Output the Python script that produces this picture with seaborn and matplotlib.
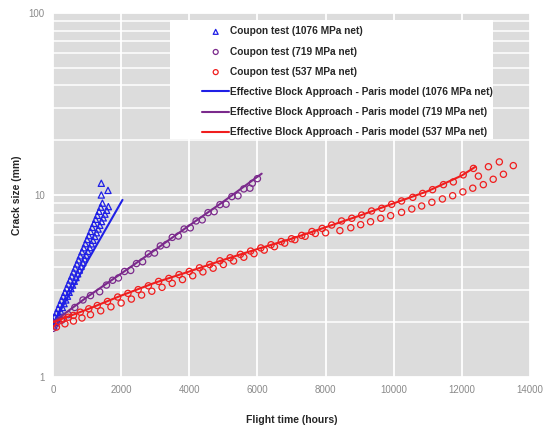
import numpy as np
import seaborn as sns
import matplotlib.pyplot as plt
from matplotlib.patches import Rectangle
from matplotlib.ticker import LogLocator, NullFormatter

## data --------------------------------------------------------------------------------

# coupon test 1076 MPa (two interleaved rows + a few outliers at the top)
blue_x = [0, 50, 100, 150, 200, 250, 300, 350, 400, 450, 500, 550, 600, 650, 700, 750,
          800, 850, 900, 950, 1000, 1050, 1100, 1150, 1200, 1250, 1300, 1350, 1400, 1450,
          25, 75, 125, 175, 225, 275, 325, 375, 425, 475, 525, 575, 625, 675, 725, 775,
          825, 875, 925, 975, 1025, 1075, 1125, 1175, 1225, 1275, 1325, 1375, 1425, 1475,
          1525, 1575, 1625,
          1418, 1418, 1614]
blue_y = [2.04, 2.15, 2.26, 2.38, 2.51, 2.64, 2.78, 2.92, 3.08, 3.24, 3.41, 3.59, 3.78, 3.97,
          4.18, 4.40, 4.63, 4.88, 5.13, 5.40, 5.69, 5.98, 6.30, 6.64, 6.98, 7.35, 7.73, 8.14,
          8.57, 9.02,
          1.91, 2.00, 2.10, 2.20, 2.30, 2.41, 2.53, 2.65, 2.78, 2.92, 3.06, 3.20, 3.36, 3.52,
          3.69, 3.87, 4.06, 4.25, 4.46, 4.67, 4.90, 5.14, 5.39, 5.64, 5.92, 6.20, 6.50, 6.82,
          7.15, 7.49, 7.85, 8.24, 8.63,
          11.6, 10.0, 10.6]

# coupon test 719 MPa
purple_x = [0, 80, 250, 450, 640, 880, 1100, 1370, 1570, 1750, 1920, 2100, 2280, 2450, 2630,
            2800, 2980, 3150, 3330, 3500, 3680, 3850, 4030, 4200, 4380, 4550, 4730, 4900,
            5080, 5250, 5430, 5600, 5780, 5850, 6000]
purple_y = [1.85, 1.95, 2.05, 2.2, 2.41, 2.65, 2.8, 2.94, 3.2, 3.4, 3.5, 3.8, 3.85, 4.2, 4.3,
            4.75, 4.8, 5.25, 5.35, 5.85, 5.95, 6.5, 6.6, 7.2, 7.3, 8.0, 8.1, 8.85, 8.9, 9.8,
            9.9, 10.8, 10.9, 11.6, 12.3]

# coupon test 537 MPa (upper row on the model line, lower row just below)
red_x = [0, 150, 300, 450, 600, 800, 1050, 1300, 1600, 1900, 2200, 2500, 2800, 3100, 3400,
         3700, 4000, 4300, 4600, 4900, 5200, 5500, 5800, 6100, 6400, 6700, 7000, 7300, 7600,
         7900, 8180, 8470, 8770, 9060, 9350, 9650, 9940, 10230, 10560, 10850, 11140, 11460,
         11750, 12040, 12340, 12780, 13100, 13510,
         100, 350, 600, 850, 1100, 1400, 1700, 2000, 2300, 2600, 2900, 3200, 3500, 3800,
         4100, 4400, 4700, 5000, 5300, 5600, 5900, 6200, 6500, 6800, 7100, 7400, 7700, 8000,
         8420, 8740, 9030, 9320, 9620, 9910, 10230, 10530, 10820, 11120, 11430, 11730, 12030,
         12320, 12485, 12630, 12920, 13220]
red_y = [1.97, 2.02, 2.08, 2.13, 2.18, 2.27, 2.37, 2.47, 2.6, 2.75, 2.88, 3.02, 3.17, 3.35,
         3.48, 3.65, 3.8, 3.98, 4.15, 4.35, 4.52, 4.72, 4.92, 5.12, 5.33, 5.55, 5.75, 6.0, 6.3,
         6.55, 6.84, 7.2, 7.45, 7.76, 8.17, 8.45, 8.89, 9.27, 9.71, 10.2, 10.7, 11.4, 11.8,
         12.9, 14.0, 14.3, 15.2, 14.5,
         1.88, 1.96, 2.03, 2.11, 2.2, 2.31, 2.43, 2.55, 2.68, 2.82, 2.96, 3.11, 3.27, 3.43,
         3.6, 3.78, 3.96, 4.15, 4.34, 4.55, 4.76, 4.98, 5.2, 5.44, 5.68, 5.93, 6.15, 6.2,
         6.37, 6.61, 6.87, 7.13, 7.45, 7.7, 8.03, 8.38, 8.7, 9.12, 9.51, 9.91, 10.4,
         10.9, 12.7, 11.4, 12.2, 13.0]

# effective block approach - Paris model
blue_line_x = [0, 1000, 2040]
blue_line_y = [1.95, 4.3, 9.4]
purple_line_x = [0, 1000, 2000, 3000, 4000, 5000, 6125]
purple_line_y = [2.0, 2.75, 3.7, 5.0, 6.8, 9.2, 13.1]
red_line_x = [0, 1000, 2000, 3000, 4000, 5000, 6000, 7000, 8000, 9000, 10000, 11000, 12000, 12400]
red_line_y = [2.0, 2.35, 2.8, 3.3, 3.8, 4.4, 5.05, 5.75, 6.65, 7.7, 9.0, 10.5, 12.8, 14.3]

stress = ['1076', '719', '537']
colors = ['#1f1fe6', '#7b2a8c', '#f01e1e']

## plot ---------------------------------------------------------------------------------

sns.set_style('darkgrid', {'axes.facecolor': '#dcdcdc', 'grid.color': 'white'})
plt.rcParams['font.family'] = ['Liberation Sans', 'DejaVu Sans']

fig = plt.figure(figsize=(5.44, 4.25), dpi=100)
ax = fig.add_axes([53/544, 48/425, 477/544, 364/425])

points = [(blue_x, blue_y, '^'), (purple_x, purple_y, 'o'), (red_x, red_y, 'o')]
for (px, py, mk), s, c in zip(points, stress, colors):
    sns.scatterplot(x=px, y=py, marker=mk, s=20, color=c, edgecolor=c, linewidth=0.9,
                    ax=ax, label='Coupon test (%s MPa net)' % s, zorder=3)
    ax.collections[-1].set_facecolor('none')

lines = [(blue_line_x, blue_line_y), (purple_line_x, purple_line_y), (red_line_x, red_line_y)]
for (lx, ly), s, c in zip(lines, stress, colors):
    sns.lineplot(x=lx, y=ly, color=c, linewidth=1.5, ax=ax, zorder=4,
                 label='Effective Block Approach - Paris model (%s MPa net)' % s)

ax.set_yscale('log')
ax.set_xlim(0, 14000)
ax.set_ylim(1, 100)
ax.set_xticks(range(0, 14001, 2000))
ax.set_yticks([1, 10, 100])
ax.set_yticklabels(['1', '10', '100'])
ax.yaxis.set_minor_locator(LogLocator(base=10, subs=range(2, 10)))
ax.yaxis.set_minor_formatter(NullFormatter())
ax.grid(which='major', color='white', linewidth=1.3)
ax.grid(which='minor', axis='y', color='white', linewidth=1.1)
ax.tick_params(which='both', length=0, labelsize=7, labelcolor='#8a8a8a', pad=6)
for sp in ax.spines.values():
    sp.set_visible(False)

ax.set_xlabel('Flight time (hours)', fontsize=7.5, fontweight='bold', labelpad=14)
ax.set_ylabel('Crack size (mm)', fontsize=7.5, fontweight='bold', labelpad=5)

# white legend box
ax.add_patch(Rectangle((170/544, 1 - 139/425), 323/544, 119/425, transform=fig.transFigure,
                       facecolor='white', edgecolor='none', zorder=2, clip_on=False))
handles, labels = ax.get_legend_handles_labels()
leg = ax.legend(handles, labels, loc='upper left', bbox_to_anchor=(202/544, 1 - 26.5/425),
                bbox_transform=fig.transFigure, frameon=False, borderpad=0, borderaxespad=0,
                handlelength=2.7, handletextpad=0.1, labelspacing=1.0, scatterpoints=1,
                markerscale=0.8, prop={'size': 7.3, 'weight': 'bold'})
leg.set_zorder(5)

fig.savefig('out.png', dpi=100)
